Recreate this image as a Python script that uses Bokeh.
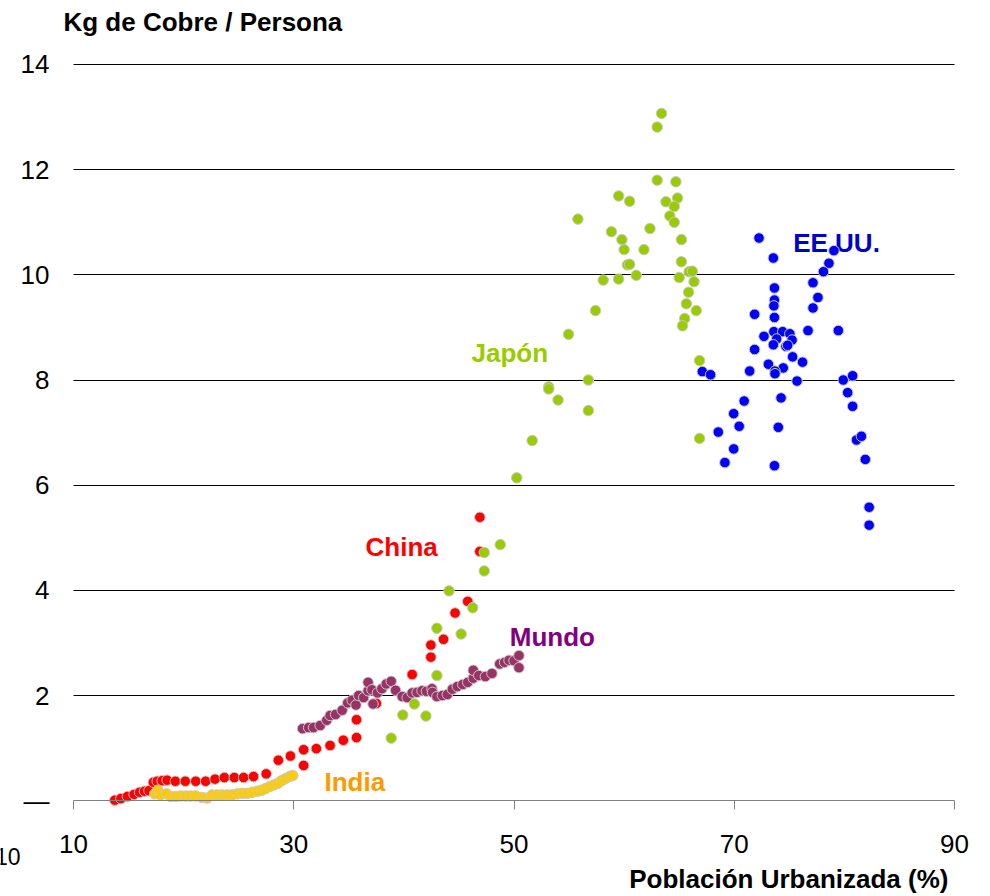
from bokeh.plotting import figure
from bokeh.models import Range1d, FixedTicker, Label, ColumnDataSource, Grid
from bokeh.core.properties import value
from bokeh.embed import file_html
from bokeh.resources import INLINE

# ---------------- data ----------------
japon_x = [63.4, 63.0, 63.0, 64.7, 59.5, 60.5, 63.8, 64.85, 64.55, 64.15, 64.55, 55.8, 58.85, 59.8, 60.0,
           62.35, 61.8, 65.2, 65.2, 60.3, 60.5, 58.1, 59.5, 61.1, 65.0, 65.9, 66.2, 66.35, 65.85, 65.65,
           66.55, 65.5, 65.3, 57.4, 54.95, 66.85, 56.75, 53.15, 53.15, 54.0, 56.75, 51.65, 66.85, 50.25,
           48.75, 47.3, 47.3, 44.1, 46.25, 43.0, 45.2, 43.0, 40.95, 39.9, 42.0, 38.85]
japon_y = [13.07, 12.81, 11.80, 11.77, 11.50, 11.40, 11.39, 11.46, 11.30, 11.12, 11.00, 11.06, 10.82, 10.67, 10.48,
           10.88, 10.48, 10.67, 10.25, 10.19, 10.20, 9.90, 9.92, 9.99, 9.95, 10.06, 10.07, 9.87, 9.67, 9.45,
           9.32, 9.17, 9.03, 9.32, 8.87, 8.37, 8.00, 7.87, 7.83, 7.62, 7.42, 6.85, 6.89, 6.14,
           4.87, 4.72, 4.37, 3.99, 3.67, 3.28, 3.17, 2.38, 1.84, 1.63, 1.61, 1.19]

eeuu_x = [72.25, 73.55, 79.05, 78.6, 78.1, 77.15, 77.6, 77.15, 73.65, 73.65, 73.6, 73.65, 71.85, 73.6, 74.4,
          75.05, 76.7, 79.45, 72.7, 73.85, 75.25, 73.55, 74.7, 74.85, 71.85, 75.3, 76.2, 73.1, 74.45, 73.7,
          73.7, 71.4, 75.7, 67.1, 67.85, 79.9, 80.75, 80.3, 80.75, 70.9, 74.25, 69.95, 70.45, 74.0, 68.55,
          69.95, 69.15, 73.65, 81.1, 81.55, 81.9, 82.25, 82.25]
eeuu_y = [10.70, 10.32, 10.46, 10.22, 10.06, 9.85, 9.57, 9.37, 9.75, 9.52, 9.41, 9.19, 9.25, 8.92, 8.92,
          8.88, 8.94, 8.94, 8.83, 8.78, 8.76, 8.67, 8.64, 8.66, 8.58, 8.44, 8.34, 8.30, 8.23, 8.17,
          8.12, 8.17, 7.98, 8.16, 8.10, 8.00, 8.08, 7.76, 7.50, 7.60, 7.66, 7.36, 7.12, 7.10, 7.01,
          6.69, 6.43, 6.37, 6.86, 6.93, 6.49, 5.58, 5.24]

china_x = [13.75, 14.3, 14.9, 15.5, 16.0, 16.45, 16.85, 17.25, 17.6, 18.05, 18.5, 19.25, 20.15, 21.1, 22.0,
           22.85, 23.7, 24.6, 25.45, 26.35, 27.5, 28.6, 29.7, 30.9, 30.9, 32.05, 33.3, 34.5, 35.7, 35.7,
           37.5, 40.75, 42.45, 42.45, 43.6, 44.65, 45.8, 46.9, 46.9]
china_y = [0.01, 0.04, 0.08, 0.12, 0.16, 0.18, 0.19, 0.35, 0.37, 0.38, 0.39, 0.37, 0.37, 0.37, 0.37,
           0.41, 0.44, 0.44, 0.44, 0.46, 0.51, 0.77, 0.85, 0.67, 0.97, 0.99, 1.05, 1.15, 1.20, 1.54,
           1.85, 2.40, 2.73, 2.96, 3.07, 3.57, 3.79, 5.39, 4.74]

india_x = [17.38, 17.66, 17.9, 18.45, 18.81, 19.26, 19.72, 20.17, 20.62, 21.08, 21.68, 22.14, 22.59, 23.05,
           23.5, 23.96, 24.41, 24.87, 25.32, 25.77, 26.23, 26.68, 27.07, 27.43, 27.83, 28.19, 28.55, 28.89,
           29.25, 29.64, 29.91]
india_y = [0.13, 0.20, 0.11, 0.13, 0.08, 0.08, 0.09, 0.09, 0.09, 0.09, 0.06, 0.05, 0.11, 0.11,
           0.11, 0.11, 0.11, 0.13, 0.14, 0.14, 0.16, 0.18, 0.20, 0.23, 0.27, 0.30, 0.33, 0.38,
           0.42, 0.46, 0.48]

mundo_x = [30.8, 31.35, 31.8, 32.4, 33.0, 33.3, 33.8, 34.4, 34.9, 35.3, 35.65, 35.9, 36.35, 36.75, 36.75,
           37.1, 37.2, 37.6, 38.0, 38.4, 38.85, 39.25, 39.85, 40.3, 40.75, 41.2, 41.65, 42.05, 42.55, 42.6,
           43.0, 43.5, 43.95, 44.4, 44.85, 45.35, 45.8, 46.3, 46.3, 46.8, 47.4, 48.0, 48.7, 49.15, 49.55,
           50.0, 50.45, 50.45]
mundo_y = [1.37, 1.39, 1.39, 1.43, 1.53, 1.62, 1.64, 1.72, 1.86, 1.91, 1.82, 2.00, 1.96, 2.09, 2.25,
           2.11, 1.84, 2.05, 2.13, 2.22, 2.27, 2.10, 1.98, 1.96, 2.05, 2.06, 2.09, 2.08, 2.13, 2.06,
           1.98, 2.00, 2.02, 2.12, 2.17, 2.21, 2.25, 2.33, 2.48, 2.38, 2.36, 2.42, 2.60, 2.63, 2.67,
           2.66, 2.76, 2.53]

label_text = ["Japón", "EE.UU.", "China", "Mundo", "India"]
label_x = [46.14, 75.35, 36.52, 49.62, 32.79]
label_y = [8.52, 10.61, 4.83, 3.11, 0.35]
label_color = ["#99cc00", "#0000cc", "#ff0000", "#800080", "#ff9900"]

x_ticks = [10, 30, 50, 70, 90]
y_ticks = [0, 2, 4, 6, 8, 10, 12, 14]

FONT = "Liberation Sans"

W, H = 980, 896
# frame fills the canvas; axes are pinned at x=10 / y=0
p = figure(width=W, height=H, x_range=Range1d(3.371, 92.361), y_range=Range1d(-1.822, 15.217),
           output_backend="svg", toolbar_location=None,
           min_border_left=0, min_border_right=0, min_border_top=0, min_border_bottom=0)
p.outline_line_color = None
p.background_fill_color = "white"

p.xgrid.visible = False
yg = p.ygrid[0]
yg.ticker = FixedTicker(ticks=[t for t in y_ticks if t > 0])
yg.grid_line_color = "#000000"
yg.grid_line_width = 1
if "cross_bounds" in Grid.properties():
    yg.cross_bounds = (10, 90)

xa = p.xaxis[0]
xa.fixed_location = 0
xa.bounds = (10, 90)
xa.ticker = FixedTicker(ticks=x_ticks)
xa.axis_line_color = "#808080"
xa.major_tick_line_color = "#808080"
xa.major_tick_out = 9
xa.major_tick_in = 0
xa.minor_tick_line_color = None
xa.major_label_text_font = FONT
xa.major_label_text_font_size = "26px"
xa.major_label_text_color = "black"
xa.major_label_standoff = 25

ya = p.yaxis[0]
ya.fixed_location = 10
ya.ticker = FixedTicker(ticks=y_ticks)
ya.axis_line_color = None
ya.major_tick_line_color = None
ya.minor_tick_line_color = None
ya.major_tick_out = 0
ya.major_label_standoff = 24
ya.major_label_text_font = FONT
ya.major_label_text_font_size = "26px"
ya.major_label_text_color = "black"
ya.major_label_overrides = {0: "\u2014"}

# series labels (drawn under the points)
lsrc = ColumnDataSource(dict(x=label_x, y=label_y, t=label_text, c=label_color))
p.text(x="x", y="y", text="t", text_color="c", source=lsrc, text_font=value(FONT),
       text_font_style="bold", text_font_size=value("26px"), text_align="left",
       text_baseline="alphabetic")

def pts(xs, ys, color):
    p.scatter(xs, ys, size=10.5, fill_color=color, line_color="#c8c8c8", line_width=1)

pts(china_x, china_y, "#ff0000")
pts(india_x, india_y, "#ffcc00")
pts(mundo_x, mundo_y, "#993366")
pts(japon_x, japon_y, "#99cc00")
pts(eeuu_x, eeuu_y, "#0000ff")

p.add_layout(Label(x=9.09, y=14.80, text="Kg de Cobre / Persona", text_font=FONT,
                   text_font_style="bold", text_font_size="26px", text_align="left",
                   text_baseline="alphabetic", text_color="black"))
p.add_layout(Label(x=89.45, y=-1.48, text="Población Urbanizada (%)", text_font=FONT,
                   text_font_style="bold", text_font_size="26px", text_align="right",
                   text_baseline="alphabetic", text_color="black"))
p.add_layout(Label(x=5.19, y=-1.06, text="10", text_font=FONT,
                   text_font_size="23px", text_align="right",
                   text_baseline="alphabetic", text_color="black"))

open("out.html", "w").write(file_html(p, INLINE))
